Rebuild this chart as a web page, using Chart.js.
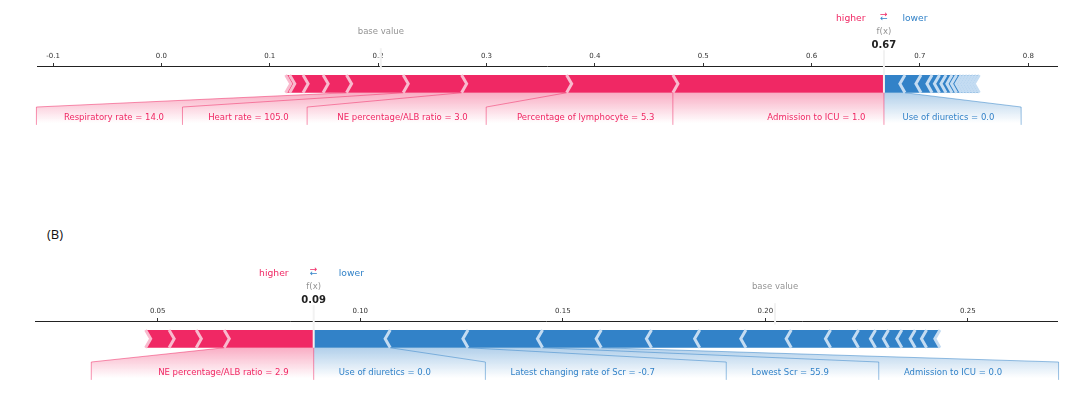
<!DOCTYPE html>
<html>
<head>
<meta charset="utf-8">
<script src="https://cdn.jsdelivr.net/npm/chart.js@4.4.1/dist/chart.umd.min.js"></script>
<style>
  html, body { margin: 0; padding: 0; background: #fff; }
  #wrap { position: relative; width: 1080px; height: 393px; overflow: hidden; }
  .panel { position: absolute; left: 0; width: 1080px; }
  #panelA { top: 0; height: 140px; }
  #panelB { top: 200px; height: 193px; }
  #tagB { position: absolute; left: 47px; top: 225px; font: 13px "Open Sans", sans-serif; color: #111; }
</style>
</head>
<body>
<div id="wrap">
  <div class="panel" id="panelA"><canvas id="chartA" width="1080" height="140"></canvas></div>
  <div id="tagB">(B)</div>
  <div class="panel" id="panelB"><canvas id="chartB" width="1080" height="193"></canvas></div>
</div>
<script>
// ---------- panel A ----------
const baseValueA = 0.2025;
const outValueA = 0.6668;
const posNamesA = ["Admission to ICU = 1.0", "Percentage of lymphocyte = 5.3", "NE percentage/ALB ratio = 3.0",
                   "Heart rate = 105.0", "Respiratory rate = 14.0"];
const posEffectsA = [0.1948, 0.0981, 0.0969, 0.0539, 0.0523, 0.0216, 0.0185, 0.0123, 0.0037];
const negNamesA = ["Use of diuretics = 0.0"];
const negEffectsA = [0.0194, 0.0148, 0.0102, 0.0069, 0.0060, 0.0055, 0.0042, 0.0042,
                     0.0028, 0.0028, 0.0028, 0.0028, 0.0028, 0.0028];
const ticksA = [-0.1, 0.0, 0.1, 0.2, 0.3, 0.4, 0.5, 0.6, 0.7, 0.8];
const rangeA = [-0.1148, 0.8265];

// ---------- panel B ----------
const baseValueB = 0.2024;
const outValueB = 0.0885;
const posNamesB = ["NE percentage/ALB ratio = 2.9"];
const posEffectsB = [0.0221, 0.0069, 0.0067, 0.0058];
const negNamesB = ["Use of diuretics = 0.0", "Latest changing rate of Scr = -0.7", "Lowest Scr = 55.9",
                   "Admission to ICU = 0.0"];
const negEffectsB = [0.0189, 0.0192, 0.0184, 0.0145, 0.0124, 0.0119, 0.0114, 0.0112,
                     0.0097, 0.0069, 0.0042, 0.0032, 0.0033, 0.0033, 0.0028, 0.0033];
const ticksB = [0.05, 0.10, 0.15, 0.20, 0.25];
const rangeB = [0.0197, 0.2720];

const RED = "240,40,100", RED_LIGHT = "#F9BACE";
const BLUE = "50,130,200", BLUE_LIGHT = "#C4DCF2";
const FONT = '"DejaVu Sans", sans-serif';

// shap style force plot drawn on top of the chart scales
const forcePlot = {
  id: "forcePlot",
  afterDraw(chart, args, o) {
    const ctx = chart.ctx;
    const xs = chart.scales.x, ys = chart.scales.y;
    const X = v => xs.getPixelForValue(v);
    const Y = v => ys.getPixelForValue(v);
    const out = o.outValue;
    const barW = 0.1;

    const posB = []; let p = out;
    o.posEffects.forEach(e => { p -= e; posB.push(p); });
    const negB = []; let n = out;
    o.negEffects.forEach(e => { n += e; negB.push(n); });
    const span = a => a.length > 1 ? Math.abs(a[0] - a[a.length - 1]) : 0;
    const offsetPx = X(out + 0.04 * (span(posB) + span(negB))) - X(out);
    const indentPx = X(xs.min + (xs.max - xs.min) / 200) - X(xs.min);

    ctx.save();
    ctx.font = "8.5px " + FONT;

    // label layout
    function layout(bounds, names, dir) {
      const res = { lines: [], texts: [], lastVal: X(out), lastBox: X(out) };
      let start = X(out);
      names.forEach((name, i) => {
        const val = X(bounds[i]);
        const w = ctx.measureText(name).width;
        const anchor = start + dir * offsetPx;
        const boxEdge = anchor + dir * w * (1 + o.stretch);
        res.texts.push({ x: anchor, t: name });
        let boxEnd;
        if (dir * boxEdge < dir * val) {
          boxEnd = val;
          res.lines.push([[val, Y(0)], [val, Y(-0.18)]]);
        } else {
          boxEnd = boxEdge + dir * offsetPx;
          res.lines.push([[val, Y(0)], [boxEnd, Y(-0.08)], [boxEnd, Y(-0.18)]]);
        }
        start = boxEnd;
        res.lastVal = val; res.lastBox = boxEnd;
      });
      return res;
    }
    const labPos = layout(posB, o.posNames, -1);
    const labNeg = layout(negB, o.negNames, 1);

    // shading
    function shade(lab, rgb) {
      ctx.beginPath();
      ctx.moveTo(X(out), Y(0));
      ctx.lineTo(lab.lastVal, Y(0));
      ctx.lineTo(lab.lastBox, Y(-0.08));
      ctx.lineTo(lab.lastBox, Y(-0.2));
      ctx.lineTo(X(out), Y(-0.2));
      ctx.closePath();
      const g = ctx.createLinearGradient(0, Y(0), 0, Y(-0.17));
      g.addColorStop(0, "rgba(" + rgb + ",0.38)");
      g.addColorStop(1, "rgba(" + rgb + ",0)");
      ctx.fillStyle = g;
      ctx.fill();
    }
    shade(labPos, RED);
    shade(labNeg, BLUE);

    // bars
    function bars(bounds, positive) {
      const ind = positive ? indentPx : -indentPx;
      const t = Y(barW), b = Y(0), m = Y(barW / 2);
      let pre = out;
      const seps = [];
      bounds.forEach((bd, i) => {
        const l = X(positive ? bd : pre), r = X(positive ? pre : bd);
        pre = bd;
        ctx.beginPath();
        if (i === 0) {
          if (positive) {
            ctx.moveTo(l, b); ctx.lineTo(r, b); ctx.lineTo(r, t); ctx.lineTo(l, t); ctx.lineTo(l + ind, m);
          } else {
            ctx.moveTo(r, b); ctx.lineTo(l, b); ctx.lineTo(l, t); ctx.lineTo(r, t); ctx.lineTo(r + ind, m);
          }
        } else {
          ctx.moveTo(l, b); ctx.lineTo(r, b); ctx.lineTo(r + ind * 0.9, m);
          ctx.lineTo(r, t); ctx.lineTo(l, t); ctx.lineTo(l + ind * 0.9, m);
        }
        ctx.closePath();
        ctx.fillStyle = "rgb(" + (positive ? RED : BLUE) + ")";
        ctx.fill();
        seps.push(positive ? l : r);
      });
      ctx.strokeStyle = positive ? RED_LIGHT : BLUE_LIGHT;
      ctx.lineWidth = 3;
      ctx.lineJoin = "miter";
      seps.forEach(s => {
        ctx.beginPath();
        ctx.moveTo(s, b); ctx.lineTo(s + ind, m); ctx.lineTo(s, t);
        ctx.stroke();
      });
    }
    bars(posB, true);
    bars(negB, false);

    // connector lines
    ctx.lineWidth = 1;
    function drawLines(lab, rgb) {
      ctx.strokeStyle = "rgba(" + rgb + ",0.5)";
      lab.lines.forEach(pts => {
        ctx.beginPath();
        pts.forEach((pt, i) => i ? ctx.lineTo(pt[0], pt[1]) : ctx.moveTo(pt[0], pt[1]));
        ctx.stroke();
      });
    }
    ctx.strokeStyle = "rgba(" + RED + ",0.5)";
    ctx.beginPath(); ctx.moveTo(X(out), Y(0)); ctx.lineTo(X(out), Y(-0.18)); ctx.stroke();
    drawLines(labPos, RED);
    drawLines(labNeg, BLUE);

    // output and base lines
    ctx.strokeStyle = "#F2F2F2";
    ctx.lineWidth = 2;
    ctx.beginPath(); ctx.moveTo(X(out), Y(0)); ctx.lineTo(X(out), Y(0.24)); ctx.stroke();
    ctx.beginPath(); ctx.moveTo(X(o.baseValue), Y(0.13)); ctx.lineTo(X(o.baseValue), Y(0.25)); ctx.stroke();

    // feature labels
    ctx.textBaseline = "alphabetic";
    ctx.textAlign = "right";
    ctx.fillStyle = "rgb(" + RED + ")";
    labPos.texts.forEach(tx => ctx.fillText(tx.t, tx.x, Y(-0.15)));
    ctx.textAlign = "left";
    ctx.fillStyle = "rgb(" + BLUE + ")";
    labNeg.texts.forEach(tx => ctx.fillText(tx.t, tx.x, Y(-0.15)));

    // higher / lower
    ctx.font = "9.2px " + FONT;
    ctx.textAlign = "right";
    ctx.fillStyle = "rgb(" + RED + ")";
    ctx.fillText("higher", X(out) - offsetPx, Y(0.405));
    ctx.textAlign = "center";
    ctx.fillText("\u2192", X(out), Y(0.425));
    ctx.fillStyle = "rgb(" + BLUE + ")";
    ctx.fillText("\u2190", X(out), Y(0.4));
    ctx.textAlign = "left";
    ctx.fillText("lower", X(out) + offsetPx, Y(0.405));

    // boxed texts
    function boxed(text, x, y, font, color) {
      ctx.font = font;
      const w = ctx.measureText(text).width;
      ctx.fillStyle = "#fff";
      ctx.fillRect(x - w / 2 - 2, y - 8, w + 4, 10);
      ctx.fillStyle = color;
      ctx.textAlign = "center";
      ctx.fillText(text, x, y);
    }
    boxed(out.toFixed(2), X(out), Y(0.25), "bold 10px " + FONT, "#222");
    boxed("f(x)", X(out), Y(0.33), "8.5px " + FONT, "rgba(0,0,0,0.45)");
    boxed("base value", X(o.baseValue), Y(0.33), "8.5px " + FONT, "rgba(0,0,0,0.45)");
    ctx.restore();
  }
};

function makeChart(id, range, ticks, digits, pad, fp) {
  return new Chart(document.getElementById(id), {
    type: "scatter",
    data: { datasets: [{ data: [] }] },
    options: {
      responsive: false,
      animation: false,
      layout: { padding: pad },
      plugins: { legend: { display: false }, tooltip: { enabled: false }, forcePlot: fp },
      scales: {
        x: {
          type: "linear",
          position: "top",
          min: range[0],
          max: range[1],
          afterBuildTicks: s => { s.ticks = ticks.map(v => ({ value: v })); },
          afterFit: s => { s.height = 16; },
          ticks: {
            autoSkip: false,
            maxRotation: 0,
            padding: 3,
            color: "#333",
            font: { family: "DejaVu Sans", size: 7 },
            callback: v => Number(v).toFixed(digits)
          },
          grid: { display: true, drawOnChartArea: false, drawTicks: true, tickLength: 3, color: "#333" },
          border: { display: true, color: "#222", width: 1 }
        },
        y: { type: "linear", min: -0.22, max: 0.15, display: false }
      }
    },
    plugins: [forcePlot]
  });
}

makeChart("chartA", rangeA, ticksA, 1, { top: 50, bottom: 8, left: 37, right: 23 }, {
  outValue: outValueA, baseValue: baseValueA,
  posNames: posNamesA, posEffects: posEffectsA,
  negNames: negNamesA, negEffects: negEffectsA, stretch: 0.09
});
makeChart("chartB", rangeB, ticksB, 2, { top: 105, bottom: 6, left: 35, right: 23 }, {
  outValue: outValueB, baseValue: baseValueB,
  posNames: posNamesB, posEffects: posEffectsB,
  negNames: negNamesB, negEffects: negEffectsB, stretch: 0.32
});
</script>
</body>
</html>
